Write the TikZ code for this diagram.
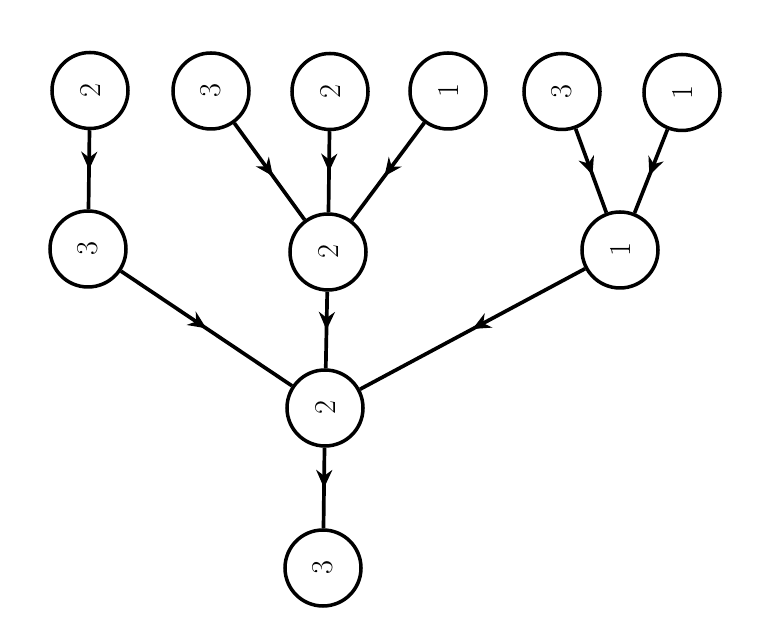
\documentclass[tikz,border=0pt]{standalone}
\usepackage{tikz}
\usetikzlibrary{arrows.meta,decorations.markings}
\tikzset{
  vtx/.style={circle,draw,line width=2pt,minimum size=1.52cm,inner sep=0pt,font=\LARGE,rotate=90},
  link/.style={line width=2.1pt,postaction={decorate},
    decoration={markings,mark=at position #1 with {\arrow{Stealth[length=3.6mm,width=3.2mm]}}}},
  link/.default=0.55,
}
\begin{document}
\begin{tikzpicture}
\useasboundingbox (0,0) rectangle (15.18,12.68);
% top row
\node[vtx] (a2) at (1.80,10.87)  {2};
\node[vtx] (b3) at (4.22,10.86)  {3};
\node[vtx] (c2) at (6.60,10.85)  {2};
\node[vtx] (d1) at (8.96,10.86)  {1};
\node[vtx] (e3) at (11.24,10.85) {3};
\node[vtx] (f1) at (13.64,10.83) {1};
% middle row
\node[vtx] (g3) at (1.76,7.70)  {3};
\node[vtx] (h2) at (6.56,7.64)  {2};
\node[vtx] (i1) at (12.40,7.68) {1};
% root and below
\node[vtx] (j2) at (6.50,4.52) {2};
\node[vtx] (k3) at (6.46,1.32) {3};
\draw[link=0.5]  (a2) -- (g3);
\draw[link]      (b3) -- (h2);
\draw[link=0.5]  (c2) -- (h2);
\draw[link]      (d1) -- (h2);
\draw[link]      (e3) -- (i1);
\draw[link]      (f1) -- (i1);
\draw[link=0.5]  (g3) -- (j2);
\draw[link=0.5]  (h2) -- (j2);
\draw[link=0.5]  (i1) -- (j2);
\draw[link=0.5]  (j2) -- (k3);
\end{tikzpicture}
\end{document}
